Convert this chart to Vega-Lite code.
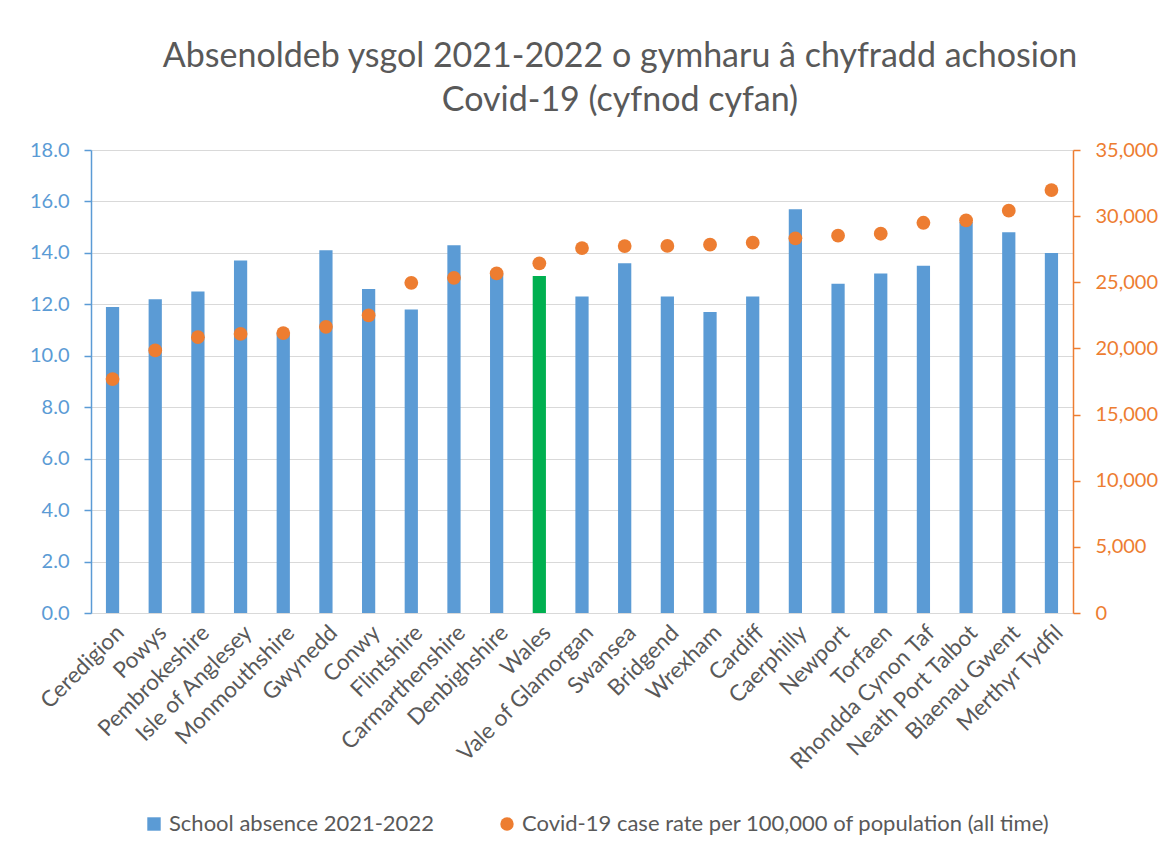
{
  "$schema": "https://vega.github.io/schema/vega-lite/v6.json",
  "autosize": "none",
  "width": 982,
  "height": 463,
  "padding": {"left": 91, "top": 150, "right": 98, "bottom": 244},
  "background": "white",
  "title": {
    "text": ["Absenoldeb ysgol 2021-2022 o gymharu â chyfradd achosion", "Covid-19 (cyfnod cyfan)"],
    "font": "Lato",
    "fontSize": 34,
    "fontWeight": "normal",
    "color": "#595959",
    "anchor": "middle",
    "dx": 38,
    "offset": 22,
    "lineHeight": 44
  },
  "data": {
    "values": [
      {"area": "Ceredigion", "absence": 11.9, "covid": 17680},
      {"area": "Powys", "absence": 12.2, "covid": 19850},
      {"area": "Pembrokeshire", "absence": 12.5, "covid": 20850},
      {"area": "Isle of Anglesey", "absence": 13.7, "covid": 21100},
      {"area": "Monmouthshire", "absence": 10.9, "covid": 21160},
      {"area": "Gwynedd", "absence": 14.1, "covid": 21630},
      {"area": "Conwy", "absence": 12.6, "covid": 22500},
      {"area": "Flintshire", "absence": 11.8, "covid": 24960},
      {"area": "Carmarthenshire", "absence": 14.3, "covid": 25340},
      {"area": "Denbighshire", "absence": 13.2, "covid": 25670},
      {"area": "Wales", "absence": 13.1, "covid": 26430},
      {"area": "Vale of Glamorgan", "absence": 12.3, "covid": 27590},
      {"area": "Swansea", "absence": 13.6, "covid": 27740},
      {"area": "Bridgend", "absence": 12.3, "covid": 27750},
      {"area": "Wrexham", "absence": 11.7, "covid": 27840},
      {"area": "Cardiff", "absence": 12.3, "covid": 27990},
      {"area": "Caerphilly", "absence": 15.7, "covid": 28320},
      {"area": "Newport", "absence": 12.8, "covid": 28520},
      {"area": "Torfaen", "absence": 13.2, "covid": 28670},
      {"area": "Rhondda Cynon Taf", "absence": 13.5, "covid": 29500},
      {"area": "Neath Port Talbot", "absence": 15.2, "covid": 29680},
      {"area": "Blaenau Gwent", "absence": 14.8, "covid": 30410},
      {"area": "Merthyr Tydfil", "absence": 14.0, "covid": 31970}
    ]
  },
  "encoding": {
    "x": {
      "field": "area",
      "type": "nominal",
      "sort": null,
      "title": null,
      "scale": {"paddingInner": 0.69, "paddingOuter": 0.35},
      "axis": {
        "labelAngle": -45,
        "labelFont": "Lato",
        "labelFontSize": 22.5,
        "labelColor": "#595959",
        "labelPadding": 8,
        "labelLimit": 400,
        "ticks": false,
        "domainColor": "#D9D9D9",
        "domainWidth": 1,
        "grid": false
      }
    }
  },
  "layer": [
    {
      "mark": {"type": "bar"},
      "encoding": {
        "y": {
          "field": "absence",
          "type": "quantitative",
          "title": null,
          "scale": {"domain": [0, 18], "nice": false},
          "axis": {
            "orient": "left",
            "values": [0, 2, 4, 6, 8, 10, 12, 14, 16, 18],
            "format": ".1f",
            "labelFont": "Lato",
            "labelFontSize": 20,
            "labelColor": "#5B9BD5",
            "domainColor": "#5B9BD5",
            "domainWidth": 1.5,
            "tickColor": "#5B9BD5",
            "tickWidth": 1.5,
            "tickSize": 7,
            "labelPadding": 15,
            "grid": true,
            "gridColor": "#D9D9D9",
            "gridWidth": 1
          }
        },
        "color": {
          "datum": "School absence 2021-2022",
          "type": "nominal",
          "condition": {"test": "datum.area === 'Wales'", "value": "#00B050"},
          "scale": {
            "domain": ["School absence 2021-2022", "Covid-19 case rate per 100,000 of population (all time)"],
            "range": ["#5B9BD5", "#ED7D31"]
          },
          "legend": {
            "title": null,
            "orient": "none",
            "legendX": 52,
            "legendY": 663,
            "direction": "horizontal",
            "columns": 2,
            "labelFont": "Lato",
            "labelFontSize": 22,
            "labelColor": "#595959",
            "labelLimit": 1000,
            "symbolSize": 180,
            "symbolOffset": 0,
            "columnPadding": 62,
            "labelOffset": 4,
            "encode": {
              "symbols": {
                "update": {
                  "shape": {"signal": "datum.label === 'School absence 2021-2022' ? 'square' : 'circle'"},
                  "strokeWidth": {"value": 0}
                }
              }
            }
          }
        }
      }
    },
    {
      "mark": {"type": "point", "filled": true, "size": 190, "opacity": 1},
      "encoding": {
        "y": {
          "field": "covid",
          "type": "quantitative",
          "title": null,
          "scale": {"domain": [0, 35000], "nice": false},
          "axis": {
            "orient": "right",
            "values": [0, 5000, 10000, 15000, 20000, 25000, 30000, 35000],
            "format": ",.0f",
            "labelFont": "Lato",
            "labelFontSize": 20,
            "labelColor": "#ED7D31",
            "domainColor": "#ED7D31",
            "domainWidth": 1.5,
            "tickColor": "#ED7D31",
            "tickWidth": 1.5,
            "tickSize": 7,
            "labelPadding": 15,
            "grid": false
          }
        },
        "color": {
          "datum": "Covid-19 case rate per 100,000 of population (all time)",
          "type": "nominal"
        }
      }
    }
  ],
  "resolve": {"scale": {"y": "independent"}},
  "config": {"view": {"stroke": null}}
}
